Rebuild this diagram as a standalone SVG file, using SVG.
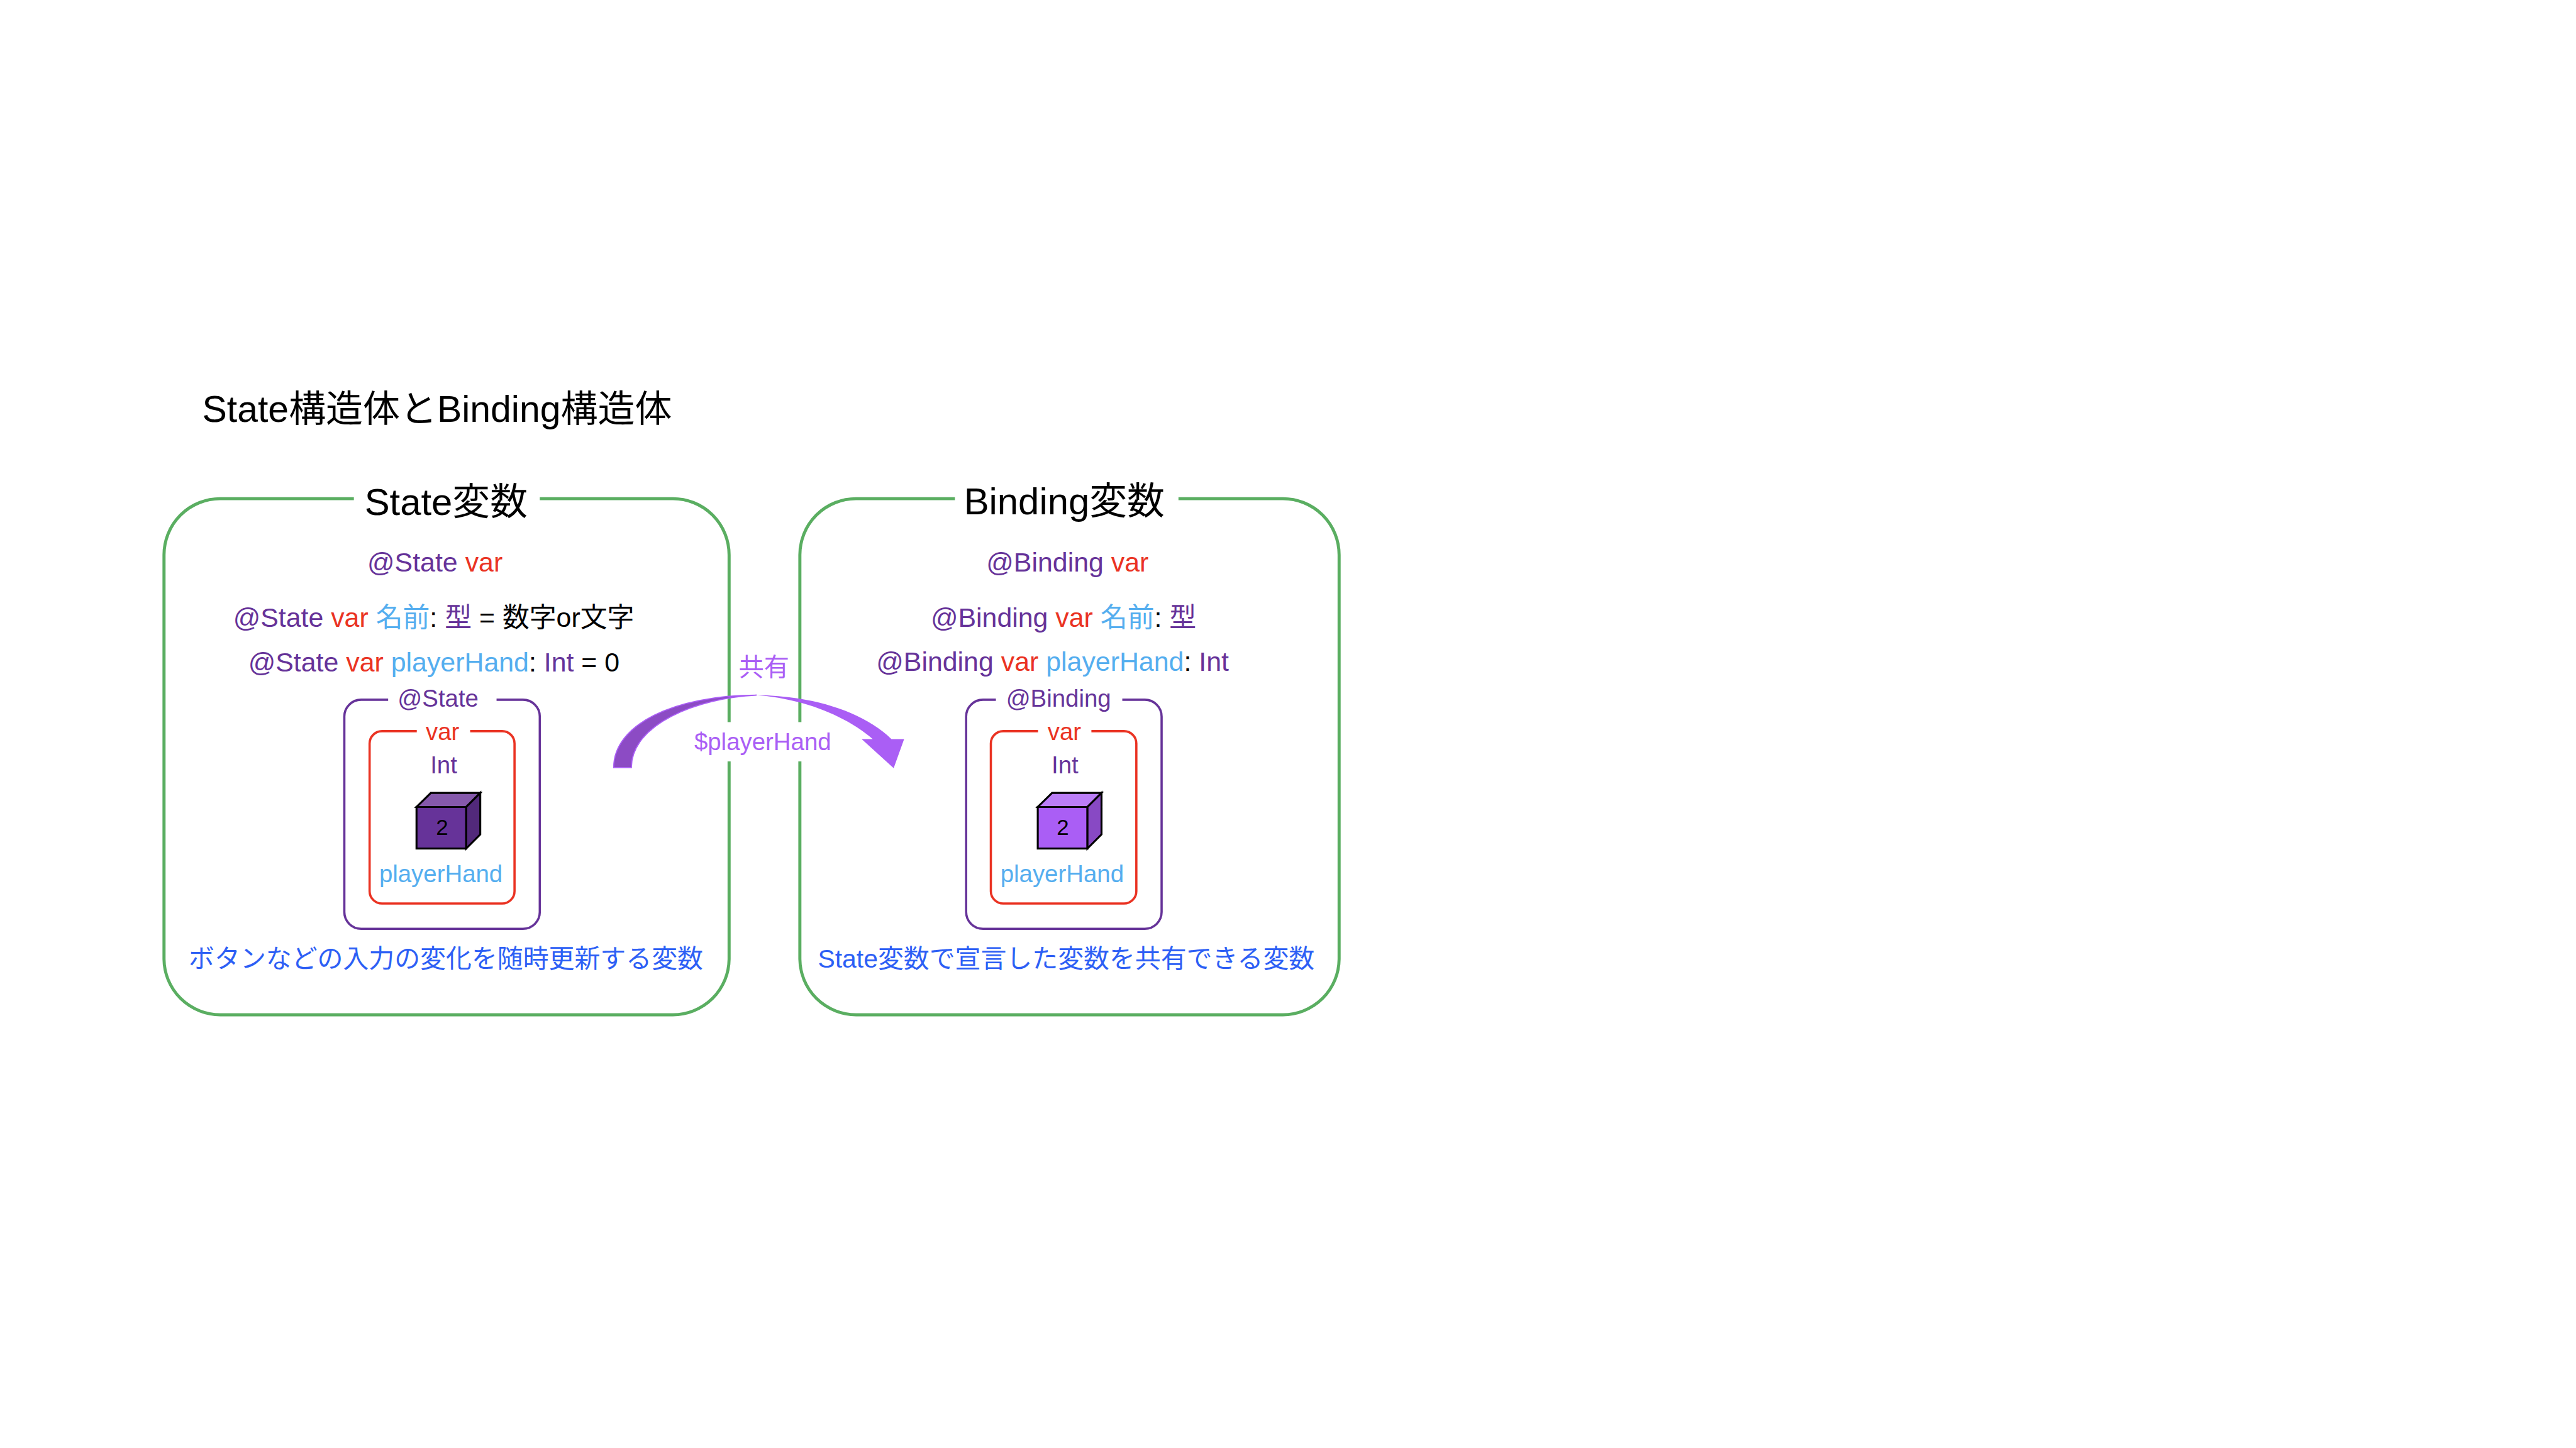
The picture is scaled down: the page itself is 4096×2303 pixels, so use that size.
<svg xmlns="http://www.w3.org/2000/svg" width="4096" height="2303" viewBox="0 0 4096 2303">
<style>
text{font-family:"Liberation Sans","Noto Sans CJK JP",sans-serif;white-space:pre}
.b{font-size:48px}.s{font-size:43px}.h{font-size:67px;fill:#000}
.p{fill:#663399}.r{fill:#ea3323}.l{fill:#55aeef}.k{fill:#000}.v{fill:#aa5ef5}.d{fill:#2d5ff5;font-size:45.8px}
.green{fill:none;stroke:#5aae61;stroke-width:5.5}
.pb{fill:none;stroke:#663399;stroke-width:4}
.rb{fill:none;stroke:#ea3323;stroke-width:4}
.cube{stroke:#000;stroke-width:3.5;stroke-linejoin:miter}
</style>
<rect width="4096" height="2303" fill="#fff"/>
<g transform="scale(0.89315)">
<text id="title" x="360" y="751" style="font-size:66px" class="k">State構造体とBinding構造体</text>

<g id="state-box">
<path class="green" d="M961 888H1198A100 100 0 0 1 1298 988V1286M1298 1356V1708A100 100 0 0 1 1198 1807H392A100 100 0 0 1 292 1708V988A100 100 0 0 1 392 888H630"/>
<text class="h" x="649" y="917">State変数</text>
<text class="b" x="654" y="1018"><tspan class="p">@State</tspan> <tspan class="r">var</tspan></text>
<text class="b" x="415" y="1116"><tspan class="p">@State</tspan> <tspan class="r">var</tspan> <tspan class="l">名前</tspan><tspan class="k">: </tspan><tspan class="p">型</tspan><tspan class="k"> = 数字or文字</tspan></text>
<text class="b" x="442" y="1196"><tspan class="p">@State</tspan> <tspan class="r">var</tspan> <tspan class="l">playerHand</tspan><tspan class="k">: </tspan><tspan class="p">Int</tspan><tspan class="k"> = 0</tspan></text>
<text class="d" x="336" y="1723">ボタンなどの入力の変化を随時更新する変数</text>
</g>

<g id="state-inner">
<path class="pb" d="M884 1246H931A30 30 0 0 1 961 1276V1624A30 30 0 0 1 931 1654H643A30 30 0 0 1 613 1624V1276A30 30 0 0 1 643 1246H691"/>
<text class="s p" x="708" y="1259">@State</text>
<path class="rb" d="M837 1302H894A22 22 0 0 1 916 1324V1587A22 22 0 0 1 894 1609H680A22 22 0 0 1 658 1587V1324A22 22 0 0 1 680 1302H742"/>
<text class="s r" x="758" y="1318">var</text>
<text class="s p" x="766" y="1377">Int</text>
<g class="cube">
<rect x="741.5" y="1437" width="88.500" height="74" fill="#663399"/>
<path d="M741.500 1437L767 1412H855L830 1437Z" fill="#8559ab"/>
<path d="M830 1437L855 1412V1486L830 1511Z" fill="#52297b"/>
</g>
<text x="787" y="1487" text-anchor="middle" style="font-size:39px" class="k">2</text>
<text class="s l" x="675" y="1571">playerHand</text>
</g>

<g id="binding-box">
<path class="green" d="M2098 888H2284A100 100 0 0 1 2384 988V1708A100 100 0 0 1 2284 1807H1524A100 100 0 0 1 1424 1708V1356M1424 1286V988A100 100 0 0 1 1524 888H1700"/>
<text class="h" x="1716" y="916">Binding変数</text>
<text class="b" x="1756" y="1018"><tspan class="p">@Binding</tspan> <tspan class="r">var</tspan></text>
<text class="b" x="1657" y="1116"><tspan class="p">@Binding</tspan> <tspan class="r">var</tspan> <tspan class="l">名前</tspan><tspan class="k">: </tspan><tspan class="p">型</tspan></text>
<text class="b" x="1560" y="1195"><tspan class="p">@Binding</tspan> <tspan class="r">var</tspan> <tspan class="l">playerHand</tspan><tspan class="k">: </tspan><tspan class="p">Int</tspan></text>
<text class="d" x="1456" y="1723">State変数で宣言した変数を共有できる変数</text>
</g>

<g id="binding-inner">
<path class="pb" d="M1998 1246H2038A30 30 0 0 1 2068 1276V1624A30 30 0 0 1 2038 1654H1750A30 30 0 0 1 1720 1624V1276A30 30 0 0 1 1750 1246H1773"/>
<text class="s p" x="1791" y="1259">@Binding</text>
<path class="rb" d="M1943 1302H2001A22 22 0 0 1 2023 1324V1587A22 22 0 0 1 2001 1609H1786A22 22 0 0 1 1764 1587V1324A22 22 0 0 1 1786 1302H1848"/>
<text class="s r" x="1865" y="1318">var</text>
<text class="s p" x="1872" y="1377">Int</text>
<g class="cube">
<rect x="1847.500" y="1437" width="88.500" height="74" fill="#aa5ef5"/>
<path d="M1847.500 1437L1873 1412H1961L1936 1437Z" fill="#bb7ef7"/>
<path d="M1936 1437L1961 1412V1486L1936 1511Z" fill="#8849c4"/>
</g>
<text x="1892" y="1487" text-anchor="middle" style="font-size:39px" class="k">2</text>
<text class="s l" x="1781" y="1571">playerHand</text>
</g>

<g id="connectors">
<path d="M1092.500 1367C1092.500 1290 1200 1238 1347 1238C1240 1243 1124 1290 1124 1367Z" fill="#8c4bc4" stroke="#aa5ef5" stroke-width="2"/>
<path d="M1347 1238C1440 1238 1535 1265 1587 1316H1609.600L1591 1368L1534 1316H1553.700C1500 1270 1420 1243 1347 1238Z" fill="#aa5ef5"/>
<text x="1360" y="1204" text-anchor="middle" style="font-size:45px" class="v">共有</text>
<text x="1236" y="1336" class="s v">$playerHand</text>
</g>
</g>
</svg>
